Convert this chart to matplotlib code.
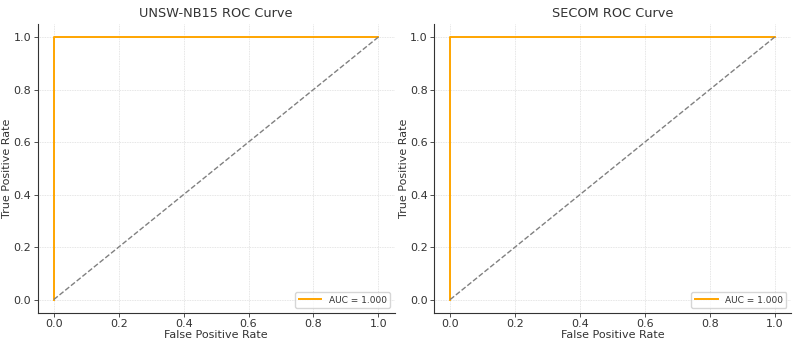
import matplotlib
matplotlib.use('Agg')
import matplotlib.pyplot as plt

# ROC points (perfect classifier for both datasets)
titles = ['UNSW-NB15 ROC Curve', 'SECOM ROC Curve']
fpr_unsw = [0.0, 0.0, 1.0]
tpr_unsw = [0.0, 1.0, 1.0]
fpr_secom = [0.0, 0.0, 1.0]
tpr_secom = [0.0, 1.0, 1.0]
auc_values = [1.000, 1.000]
diag = [0.0, 1.0]

plt.rcParams['font.family'] = 'DejaVu Sans'
fig, axes = plt.subplots(1, 2, figsize=(7.99, 3.41), dpi=100)
fig.subplots_adjust(left=0.047, right=0.99, bottom=0.083, top=0.93, wspace=0.11)

curves = [(fpr_unsw, tpr_unsw), (fpr_secom, tpr_secom)]
for ax, title, (fpr, tpr), auc in zip(axes, titles, curves, auc_values):
    ax.plot(fpr, tpr, color='orange', lw=1.4, label='AUC = %.3f' % auc)
    ax.plot(diag, diag, color='gray', ls='--', lw=1)
    ax.set_title(title, fontsize=9.3, color='#333333', pad=5)
    ax.set_xlabel('False Positive Rate', fontsize=8, color='#333333', labelpad=1)
    ax.set_ylabel('True Positive Rate', fontsize=8, color='#333333', labelpad=1)
    ax.set_xticks([0.0, 0.2, 0.4, 0.6, 0.8, 1.0])
    ax.set_yticks([0.0, 0.2, 0.4, 0.6, 0.8, 1.0])
    ax.tick_params(labelsize=8, colors='#333333', length=3, width=0.6, pad=1.5)
    ax.grid(True, color='#dddddd', ls=(0, (1, 1)), lw=0.6)
    ax.set_axisbelow(True)
    for s in ['top', 'right']:
        ax.spines[s].set_visible(False)
    for s in ['left', 'bottom']:
        ax.spines[s].set_color('#333333')
        ax.spines[s].set_linewidth(0.8)
    ax.legend(loc='lower right', fontsize=6.5, handlelength=2.5, borderpad=0.4,
              labelcolor='#333333')

plt.savefig('out.png', dpi=100)
